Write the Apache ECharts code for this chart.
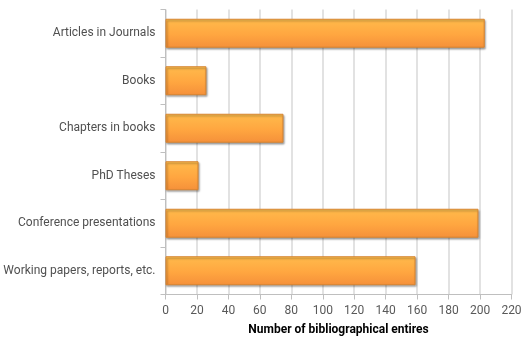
<!DOCTYPE html>
<html>
<head>
<meta charset="utf-8">
<script src="https://cdn.jsdelivr.net/npm/echarts@6/dist/echarts.min.js"></script>
<style>
  html, body { margin: 0; padding: 0; background: #ffffff; }
  #chart { width: 530px; height: 346px; }
</style>
</head>
<body>
<div id="chart"></div>
<script>
// Publication types, listed top to bottom
const categories = [
  'Articles in Journals',
  'Books',
  'Chapters in books',
  'PhD Theses',
  'Conference presentations',
  'Working papers, reports, etc.'
];
// Number of bibliographical entries per type
const counts = [203, 26, 75, 21, 199, 159];
const xTicks = [0, 20, 40, 60, 80, 100, 120, 140, 160, 180, 200, 220];

const chart = echarts.init(document.getElementById('chart'), null, { renderer: 'canvas' });

const barFill = new echarts.graphic.LinearGradient(0, 0, 0, 1, [
  { offset: 0, color: '#FFD45A' },
  { offset: 0.08, color: '#FFB84A' },
  { offset: 0.55, color: '#FFA640' },
  { offset: 1, color: '#F5903A' }
]);

chart.setOption({
  animation: false,
  grid: { left: 165.5, right: 18.5, top: 9.5, bottom: 51.5, containLabel: false },
  xAxis: {
    type: 'value',
    min: xTicks[0],
    max: xTicks[xTicks.length - 1],
    interval: 20,
    name: 'Number of bibliographical entires',
    nameLocation: 'middle',
    nameGap: 29,
    nameTextStyle: { fontFamily: 'Roboto', fontSize: 12, fontWeight: 'bold', color: '#000000' },
    axisLine: { show: true, lineStyle: { color: '#BFBFBF', width: 1 } },
    axisTick: { show: true, length: 5, lineStyle: { color: '#BFBFBF' } },
    axisLabel: { fontFamily: 'Roboto', fontSize: 12, color: '#595959', margin: 10 },
    splitLine: { show: true, lineStyle: { color: '#D9D9D9', width: 1.5 } }
  },
  yAxis: {
    type: 'category',
    data: categories,
    inverse: true,
    axisLine: { show: true, lineStyle: { color: '#BFBFBF', width: 1 } },
    axisTick: { show: true, length: 5, lineStyle: { color: '#BFBFBF' } },
    axisLabel: { fontFamily: 'Roboto', fontSize: 12, color: '#505050', margin: 10 },
    splitLine: { show: false }
  },
  series: [{
    type: 'bar',
    data: counts,
    barWidth: '61%',
    itemStyle: {
      color: barFill,
      borderColor: '#D98530',
      borderWidth: 1,
      shadowColor: 'rgba(0,0,0,0.35)',
      shadowBlur: 2,
      shadowOffsetX: 1,
      shadowOffsetY: 1.5
    }
  }]
});
</script>
</body>
</html>
